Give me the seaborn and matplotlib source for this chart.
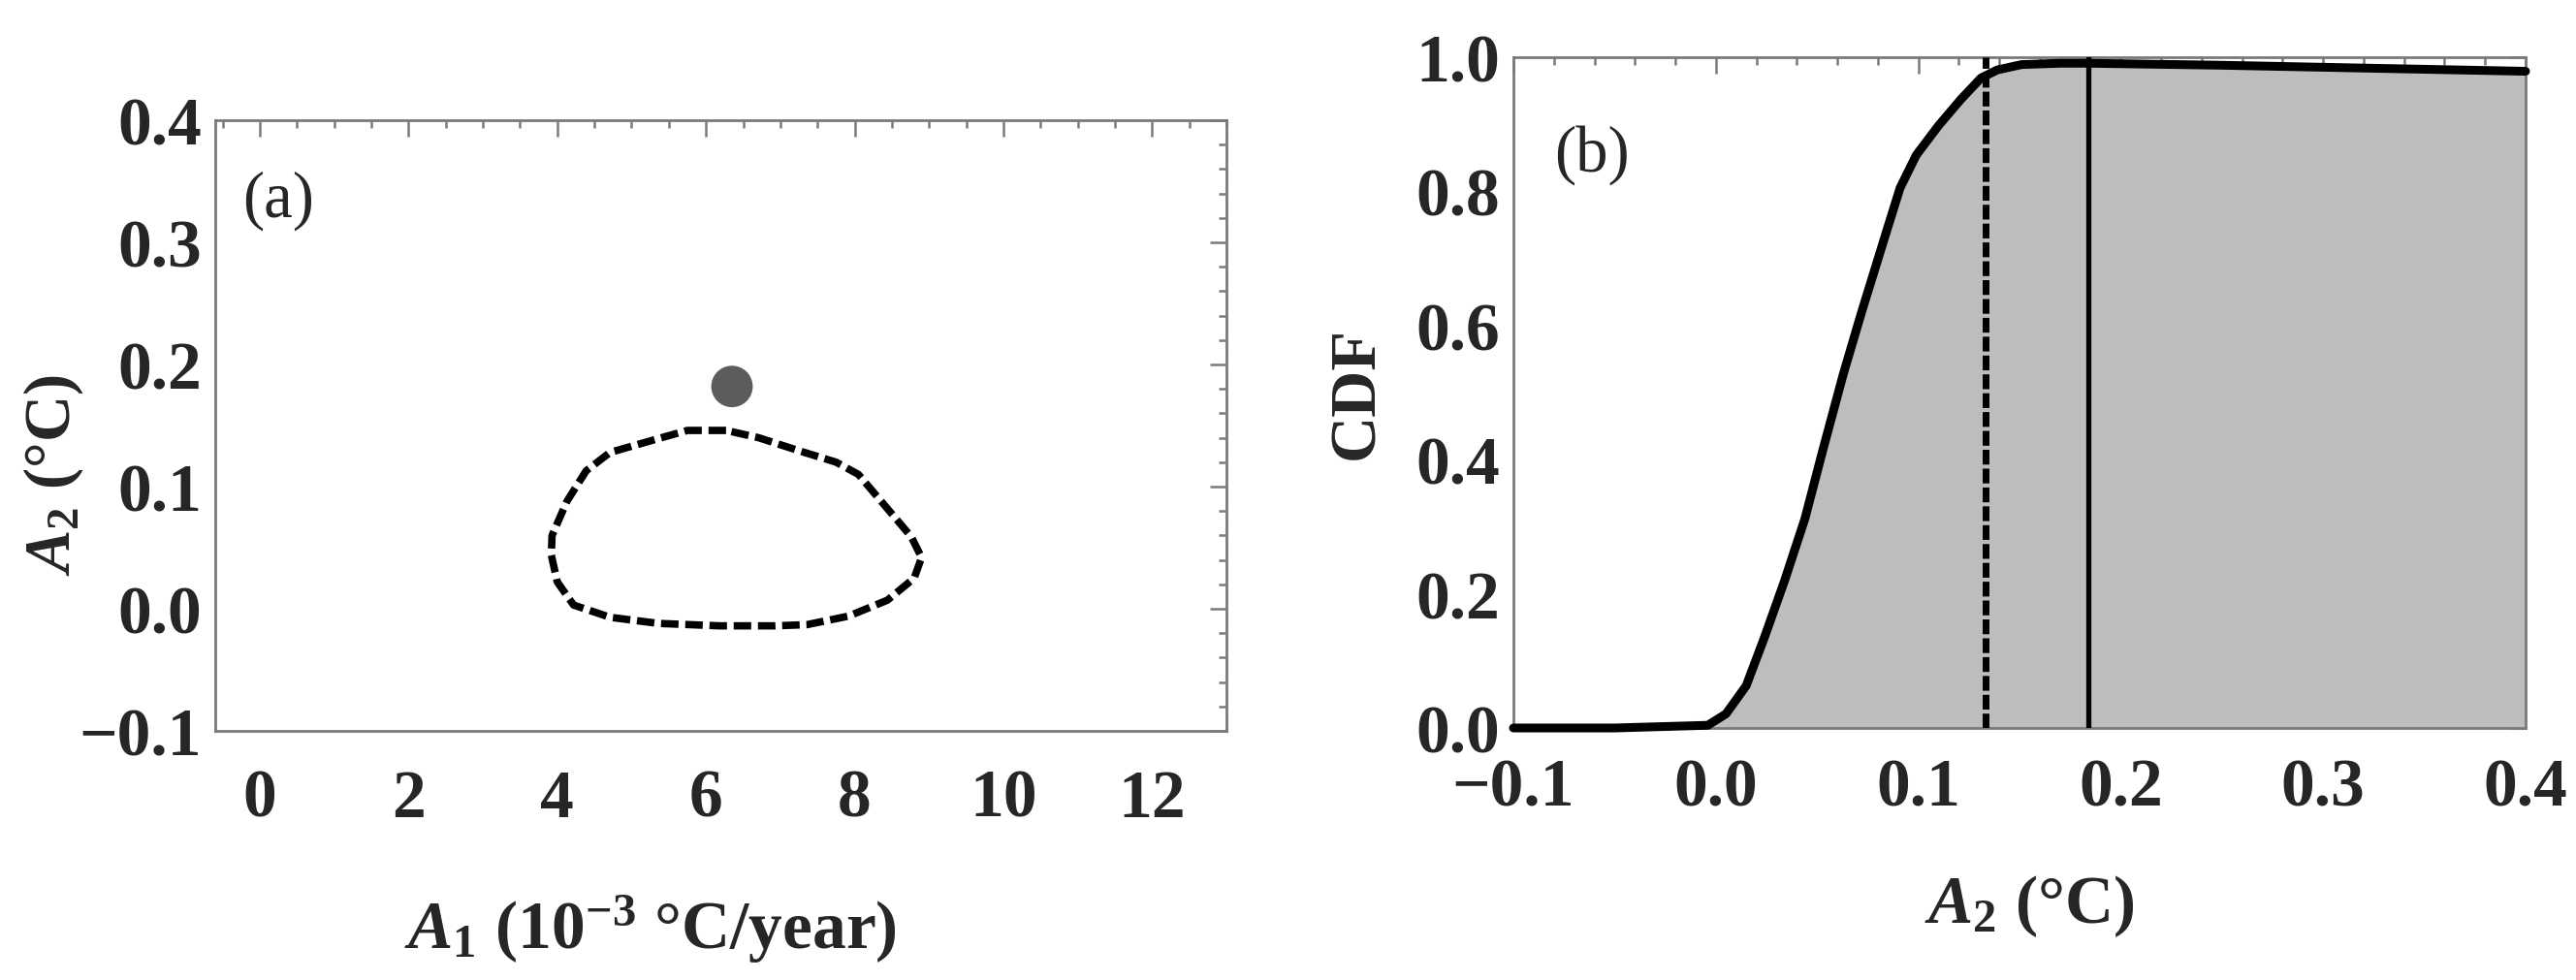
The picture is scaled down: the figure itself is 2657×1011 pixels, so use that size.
import numpy as np
import pandas as pd
import matplotlib
matplotlib.use("Agg")
import matplotlib.pyplot as plt
import seaborn as sns
from matplotlib.ticker import MultipleLocator

# ---------------- data ----------------
# panel (a): closed confidence contour (A1 in 1e-3 C/yr, A2 in C)
contour_a1 = [6.27, 5.75, 5.40, 4.71, 4.39, 4.13, 3.93, 3.92, 4.00, 4.22, 4.71, 5.36,
              6.18, 6.93, 7.36, 7.92, 8.44, 8.80, 8.90, 8.76, 8.44, 8.05, 7.75, 7.27,
              6.71, 6.27]
contour_a2 = [0.146, 0.146, 0.140, 0.128, 0.113, 0.088, 0.060, 0.044, 0.022, 0.003,
              -0.007, -0.012, -0.014, -0.014, -0.013, -0.006, 0.007, 0.025, 0.042,
              0.059, 0.082, 0.110, 0.120, 0.129, 0.140, 0.146]
point_a1 = [6.35]
point_a2 = [0.182]

# panel (b): CDF of A2
cdf_x = [-0.100, -0.050, -0.004, 0.005, 0.015, 0.024, 0.034, 0.044, 0.053, 0.063,
         0.072, 0.085, 0.091, 0.099, 0.110, 0.121, 0.131, 0.139, 0.151, 0.170,
         0.184, 0.250, 0.300, 0.350, 0.400]
cdf_y = [0.000, 0.000, 0.004, 0.021, 0.063, 0.135, 0.220, 0.312, 0.416, 0.528,
         0.620, 0.747, 0.805, 0.854, 0.898, 0.937, 0.969, 0.981, 0.989, 0.991,
         0.991, 0.988, 0.985, 0.982, 0.979]
dashed_line_x = 0.133
solid_line_x = 0.184

a_xticks = [0, 2, 4, 6, 8, 10, 12]
a_xticklabels = ["0", "2", "4", "6", "8", "10", "12"]
a_yticks = [-0.1, 0.0, 0.1, 0.2, 0.3, 0.4]
a_yticklabels = ["\u22120.1", "0.0", "0.1", "0.2", "0.3", "0.4"]
b_xticks = [-0.1, 0.0, 0.1, 0.2, 0.3, 0.4]
b_xticklabels = ["\u22120.1", "0.0", "0.1", "0.2", "0.3", "0.4"]
b_yticks = [0.0, 0.2, 0.4, 0.6, 0.8, 1.0]
b_yticklabels = ["0.0", "0.2", "0.4", "0.6", "0.8", "1.0"]

# ---------------- style ----------------
sns.set_style("white")
plt.rcParams["font.family"] = ["Liberation Serif", "DejaVu Serif"]
plt.rcParams["mathtext.fontset"] = "custom"
plt.rcParams["mathtext.it"] = "Liberation Serif:italic:bold"
plt.rcParams["mathtext.rm"] = "Liberation Serif:bold"
plt.rcParams["mathtext.bf"] = "Liberation Serif:bold"
plt.rcParams["lines.scale_dashes"] = False

W, H = 2657, 1012
fig = plt.figure(figsize=(W / 100, H / 100), dpi=100)
fig.patch.set_facecolor("white")

def frac(l, t, r, b):
    return [l / W, 1 - b / H, (r - l) / W, (b - t) / H]

ax_a = fig.add_axes(frac(222, 125, 1265, 755))
ax_b = fig.add_axes(frac(1561, 60, 2605, 752))

spine_col = "#7a7a7a"
tick_fs = 50

def style_frame(ax):
    for s in ax.spines.values():
        s.set_visible(True)
        s.set_color(spine_col)
        s.set_linewidth(2.0)
    ax.tick_params(which="both", direction="in", top=True, right=True,
                   color=spine_col, width=1.8)
    ax.tick_params(which="major", length=12)
    ax.tick_params(which="minor", length=6)
    ax.tick_params(axis="both", labelsize=tick_fs)
    for lab in ax.get_xticklabels() + ax.get_yticklabels():
        lab.set_fontweight("bold")

# ---------------- panel (a) ----------------
df_c = pd.DataFrame({"A1": contour_a1, "A2": contour_a2})
sns.lineplot(data=df_c, x="A1", y="A2", sort=False, estimator=None,
             color="black", linewidth=5.5, ax=ax_a)
ax_a.lines[-1].set_dashes((13, 5))
ax_a.lines[-1].set_solid_capstyle("butt")
sns.scatterplot(x=point_a1, y=point_a2, s=950, color="#5c5c5c",
                edgecolor="none", ax=ax_a, zorder=5)
ax_a.set_xlim(-0.6, 13.0)
ax_a.set_ylim(-0.1, 0.4)
ax_a.set_xticks(a_xticks)
ax_a.set_xticklabels(a_xticklabels)
ax_a.set_yticks(a_yticks)
ax_a.set_yticklabels(a_yticklabels)
ax_a.xaxis.set_minor_locator(MultipleLocator(0.5))
ax_a.yaxis.set_minor_locator(MultipleLocator(0.02))
style_frame(ax_a)
ax_a.tick_params(axis="x", pad=28)
ax_a.tick_params(axis="y", pad=10)
ax_a.set_xlabel(r"$A_1$ (10$^{-3}$ °C/year)", fontsize=50, fontweight="bold")
ax_a.set_ylabel(r"$A_2$ (°C)", fontsize=48, fontweight="bold")
ax_a.xaxis.set_label_coords(0.43, -0.265)
ax_a.yaxis.set_label_coords(-0.128, 0.42)
ax_a.text(0.027, 0.87, "(a)", transform=ax_a.transAxes, fontsize=48,
          ha="left", va="center")

# ---------------- panel (b) ----------------
df_b = pd.DataFrame({"A2": cdf_x, "CDF": cdf_y})
ax_b.fill_between(df_b["A2"], 0, df_b["CDF"], color="#bdbdbd", linewidth=0, zorder=1)
ax_b.axvline(dashed_line_x, color="black", linewidth=5.0, linestyle=(0, (11, 3)), zorder=3)
ax_b.axvline(solid_line_x, color="black", linewidth=3.8, zorder=3)
sns.lineplot(data=df_b, x="A2", y="CDF", color="black", linewidth=6.5,
             estimator=None, ax=ax_b, zorder=4)
ax_b.lines[-1].set_clip_on(False)
ax_b.lines[-1].set_solid_joinstyle("round")
ax_b.set_xlim(-0.1, 0.4)
ax_b.set_ylim(0.0, 1.0)
ax_b.set_xticks(b_xticks)
ax_b.set_xticklabels(b_xticklabels)
ax_b.set_yticks(b_yticks)
ax_b.set_yticklabels(b_yticklabels)
ax_b.xaxis.set_minor_locator(MultipleLocator(0.02))
ax_b.yaxis.set_minor_locator(MultipleLocator(0.05))
style_frame(ax_b)
ax_b.tick_params(axis="x", pad=22)
ax_b.tick_params(axis="y", pad=10)
ax_b.set_xlabel(r"$A_2$ (°C)", fontsize=50, fontweight="bold")
ax_b.set_ylabel("CDF", fontsize=48, fontweight="bold")
ax_b.xaxis.set_label_coords(0.51, -0.215)
ax_b.yaxis.set_label_coords(-0.125, 0.5)
ax_b.text(0.04, 0.855, "(b)", transform=ax_b.transAxes, fontsize=48,
          ha="left", va="center")

fig.savefig("out.png", dpi=100)
